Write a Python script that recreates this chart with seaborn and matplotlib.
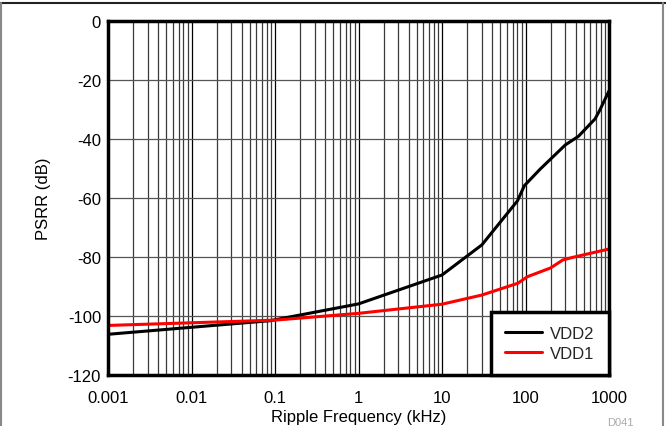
import matplotlib
matplotlib.use("Agg")
import matplotlib.pyplot as plt
from matplotlib.lines import Line2D
from matplotlib.ticker import LogLocator, FixedLocator, NullFormatter
import numpy as np
import pandas as pd
import seaborn as sns

# PSRR versus ripple frequency for both supply rails
freq_vdd2 = [0.001, 0.087, 1, 10, 30, 80, 97, 150, 300, 430, 680, 770, 1000]
psrr_vdd2 = [-106.2, -101.6, -95.9, -86.1, -75.9, -61.0, -55.8, -50.2, -42.0, -39.1, -33.2, -30.4, -23.7]

freq_vdd1 = [0.001, 0.1, 1, 10, 30, 81, 105, 200, 280, 370, 1000]
psrr_vdd1 = [-103.2, -101.4, -99.1, -96.0, -92.9, -88.9, -86.7, -83.7, -81.0, -80.1, -77.3]

series_names = ["VDD2", "VDD1"]
series_colors = ["#000000", "#ff0000"]

x_ticks = [0.001, 0.01, 0.1, 1, 10, 100, 1000]
x_tick_labels = ["0.001", "0.01", "0.1", "1", "10", "100", "1000"]
y_ticks = [-120, -100, -80, -60, -40, -20, 0]

df = pd.concat([
    pd.DataFrame({"freq": freq_vdd2, "psrr": psrr_vdd2, "rail": "VDD2"}),
    pd.DataFrame({"freq": freq_vdd1, "psrr": psrr_vdd1, "rail": "VDD1"}),
])

sns.set_theme(style="white")
plt.rcParams["font.family"] = ["Liberation Sans", "DejaVu Sans"]

fig = plt.figure(figsize=(6.66, 4.27), dpi=100)
ax = fig.add_axes([108 / 666, 1 - 376 / 427, (609 - 108) / 666, (376 - 22) / 427])

sns.lineplot(data=df, x="freq", y="psrr", hue="rail", hue_order=series_names,
             palette=series_colors, linewidth=2.2, ax=ax, legend=False,
             estimator=None, sort=False)

ax.set_xscale("log")
ax.set_xlim(0.001, 1000)
ax.set_ylim(-120, 0)

ax.xaxis.set_major_locator(FixedLocator(x_ticks))
ax.set_xticklabels(x_tick_labels)
ax.xaxis.set_minor_locator(LogLocator(base=10, subs=np.arange(2, 10), numticks=50))
ax.xaxis.set_minor_formatter(NullFormatter())
ax.set_yticks(y_ticks)
ax.set_yticklabels([str(v) for v in y_ticks])

ax.grid(True, which="major", axis="x", color="#000000", linewidth=0.9)
ax.grid(True, which="minor", axis="x", color="#3a3a3a", linewidth=0.9)
ax.grid(True, which="major", axis="y", color="#555555", linewidth=0.9)
ax.set_axisbelow(True)

ax.tick_params(axis="both", which="both", length=0, labelsize=12, colors="#000000")
ax.tick_params(axis="x", pad=11)
ax.tick_params(axis="y", pad=5)
for s in ax.spines.values():
    s.set_visible(True)
    s.set_color("#000000")
    s.set_linewidth(2.5)

ax.set_xlabel("Ripple Frequency (kHz)", fontsize=12, color="#000000", labelpad=3)
ax.set_ylabel("PSRR (dB)", fontsize=12, color="#000000", labelpad=12)

handles = [Line2D([0], [0], color=c, linewidth=2.2) for c in series_colors]
leg = ax.legend(handles, series_names, loc="lower right", bbox_to_anchor=(1, 0),
                borderaxespad=0, frameon=True, fancybox=False, fontsize=12,
                handlelength=2.2, labelspacing=0.3, borderpad=0.85,
                handletextpad=0.5)
leg.get_frame().set_edgecolor("#000000")
leg.get_frame().set_linewidth(2.5)
leg.get_frame().set_facecolor("#ffffff")
leg.get_frame().set_alpha(1)

# surrounding figure frame
fig.add_artist(Line2D([0, 1], [1 - 4 / 427, 1 - 4 / 427], transform=fig.transFigure,
                      color="#222222", linewidth=1.5))
fig.add_artist(Line2D([1 / 666, 1 / 666], [0, 1 - 4 / 427], transform=fig.transFigure,
                      color="#888888", linewidth=1.5))
fig.add_artist(Line2D([663 / 666, 663 / 666], [0, 1 - 4 / 427], transform=fig.transFigure,
                      color="#888888", linewidth=1.5))

fig.text(620 / 666, 1 - 418 / 427, "D041", fontsize=8, color="#aaaaaa",
         ha="center", va="top")

fig.savefig("out.png", dpi=100)
